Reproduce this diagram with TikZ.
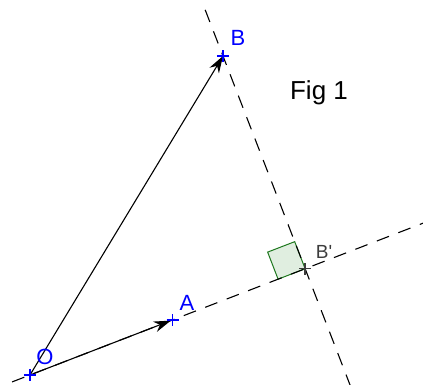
\documentclass[tikz,border=0pt]{standalone}
\usepackage{fontspec}
\setmainfont{Liberation Sans}
\usetikzlibrary{calc,arrows.meta,shapes.misc}
\definecolor{ptblue}{RGB}{0,0,255}
\definecolor{sqfill}{RGB}{224,238,224}
\definecolor{sqdraw}{RGB}{30,120,30}
\definecolor{bpgray}{RGB}{60,60,60}
\begin{document}
\begin{tikzpicture}[x=1pt,y=-1pt,
 vec/.style={line width=1.1pt,-{Stealth[length=17pt,width=11pt]}},
 dline/.style={line width=1.1pt,dash pattern=on 13pt off 10pt},
 ptmark/.style={cross out,draw=ptblue,rotate=45,minimum size=7pt,inner sep=0pt,line width=1.5pt},
 lbl/.style={text=ptblue,font=\fontsize{22}{22}\selectfont,inner sep=0pt}]
\useasboundingbox (0,0) rectangle (423,385);
\coordinate (O) at (30,375);
\coordinate (B) at (223,56);
\coordinate (D) at (307,268);
\coordinate (Bp) at ($(O)!(B)!(D)$);
\coordinate (A) at ($(O)!0.515!(D)$);
% right-angle square
\coordinate (S1) at ($(Bp)!29pt!(O)$);
\coordinate (S2) at ($(Bp)!29pt!(B)$);
\draw[fill=sqfill,draw=sqdraw,line width=1pt] (Bp) -- (S1) -- ($(S1)+(S2)-(Bp)$) -- (S2) -- cycle;
% dashed lines
\coordinate (L1) at ($(O)!-0.065!(Bp)$);
\coordinate (L2) at ($(O)!1.43!(Bp)$);
\draw[dline] (L1) -- (L2);
\coordinate (P1) at ($(Bp)!1.217!(B)$);
\coordinate (P2) at ($(Bp)!-0.55!(B)$);
\draw[dline] (P1) -- (P2);
% vectors
\draw[vec,shorten >=2pt] (O) -- (A);
\draw[vec] (O) -- (B);
% points
\node[ptmark] (pO) at (O) {};
\node[ptmark] (pA) at (A) {};
\node[ptmark] (pB) at (B) {};
\node[ptmark,draw=bpgray] (pBp) at (Bp) {};
% labels
\node[lbl] (lO) at (45,357) {O};
\node[lbl] (lA) at (187,303) {A};
\node[lbl] (lB) at (238,38) {B};
\node[lbl,text=bpgray,font=\fontsize{19}{19}\selectfont] (lBp) at (324,252) {B\textquotesingle};
\node[inner sep=0pt,font=\fontsize{26}{26}\selectfont] (fig) at (319,93) {Fig 1};
\end{tikzpicture}
\end{document}
